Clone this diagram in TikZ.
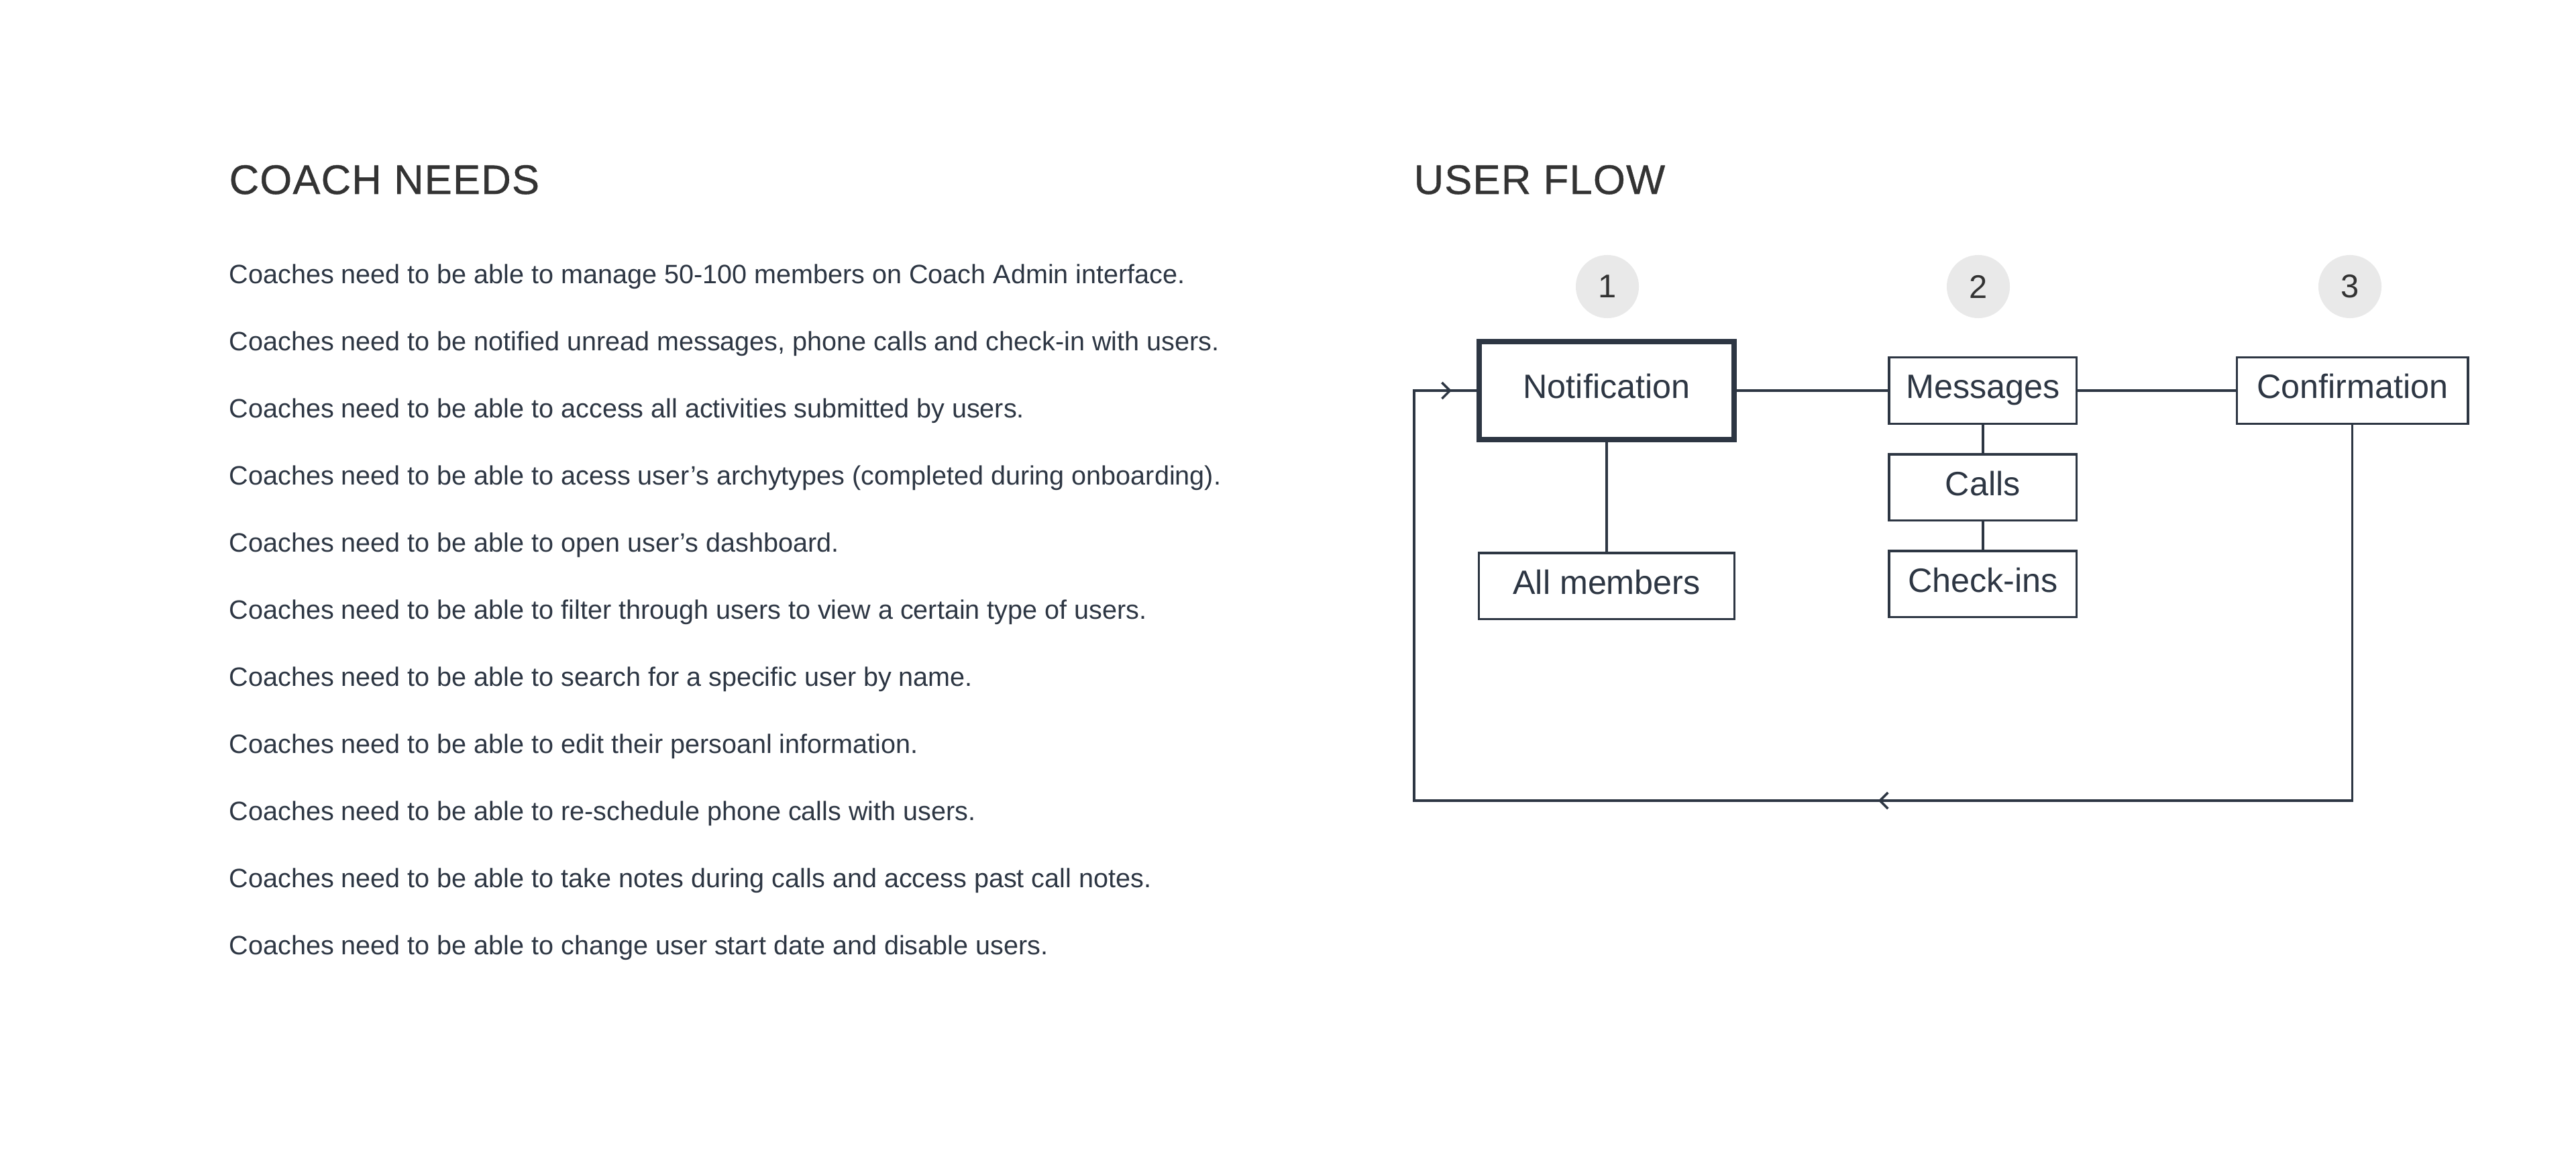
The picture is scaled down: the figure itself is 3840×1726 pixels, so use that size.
\documentclass[tikz,border=0pt]{standalone}
\usepackage{fontspec}
\setmainfont{Liberation Sans}
\newfontfamily\headfont{Liberation Sans}[LetterSpace=2,FakeBold=0.6]
\usepackage{xcolor}
\usetikzlibrary{arrows.meta,positioning,decorations.markings}
\definecolor{ink}{HTML}{2D3643}
\definecolor{head}{HTML}{333333}
\definecolor{dot}{HTML}{E9E9E9}
\begin{document}
\begin{tikzpicture}[x=0.01cm,y=-0.01cm]
				\tikzstyle{fnode}=[rectangle,draw=ink,line width=0.035cm,text=ink,font=\fontsize{14.3}{16}\selectfont,text height=0.73em,text depth=0.05em,minimum height=0.985cm,inner sep=0]
				\tikzstyle{bignode}=[fnode,line width=0.08cm,minimum width=3.8cm,minimum height=1.45cm]
				\tikzstyle{num}=[circle,fill=dot,text=head,minimum size=0.94cm,inner sep=0,font=\fontsize{13.9}{16}\selectfont]
				\tikzstyle{hnode}=[anchor=base west,inner sep=0,text=head,font=\headfont\fontsize{17.5}{20}\selectfont]
				\tikzstyle{tnode}=[anchor=base west,inner sep=0,text=ink,font=\fontsize{11.25}{13}\selectfont]
				\tikzstyle{fline}=[draw=ink,line width=0.035cm]
				\fill[white] (0,0) rectangle (3840,1726);
				\useasboundingbox (0,0) rectangle (3840,1726);
				\node[hnode] (coach) at (341,289) {COACH NEEDS};
				\node[hnode] (uflow) at (2107,289) {USER FLOW};
				\foreach \txt [count=\i] in {Coaches need to be able to manage 50-100 members on Coach Admin interface.,
					{Coaches need to be notified unread messages, phone calls and check-in with users.},
					Coaches need to be able to access all activities submitted by users.,
					Coaches need to be able to acess user’s archytypes (completed during onboarding).,
					Coaches need to be able to open user’s dashboard.,
					Coaches need to be able to filter through users to view a certain type of users.,
					Coaches need to be able to search for a specific user by name.,
					Coaches need to be able to edit their persoanl information.,
					Coaches need to be able to re-schedule phone calls with users.,
					Coaches need to be able to take notes during calls and access past call notes.,
					Coaches need to be able to change user start date and disable users.}
					\node[tnode] (need\i) at (341,{322+100*\i}) {\txt};
				\node[bignode] (notif) at (2395,582) {Notification};
				\node[fnode,minimum width=3.805cm,below=1.635cm of notif] (allm) {All members};
				\node[fnode,minimum width=2.795cm,right=2.25cm of notif] (msg) {Messages};
				\node[fnode,minimum width=2.795cm,below=0.42cm of msg] (calls) {Calls};
				\node[fnode,minimum width=2.795cm,below=0.42cm of calls] (checks) {Check-ins};
				\node[fnode,minimum width=3.445cm,right=2.35cm of msg] (conf) {Confirmation};
				\node[num] (n1) at (2396,427) {1};
				\node[num] (n2) at (2949,427) {2};
				\node[num] (n3) at (3503,427) {3};
				\draw[fline] (notif) -- (msg);
				\draw[fline] (msg) -- (conf);
				\draw[fline] (notif) -- (allm);
				\draw[fline] (msg) -- (calls);
				\draw[fline] (calls) -- (checks);
				\coordinate (loopsw) at (2108,1193);
				\draw[fline,postaction={decorate},decoration={markings,
					mark=at position 12.66cm with {\arrow{Straight Barb[length=1.2mm,width=2.4mm]}},
					mark=at position 26.24cm with {\arrow{Straight Barb[length=1.2mm,width=2.4mm]}}}]
					(conf.south) |- (loopsw) |- (notif.west);
			\end{tikzpicture}
\end{document}
